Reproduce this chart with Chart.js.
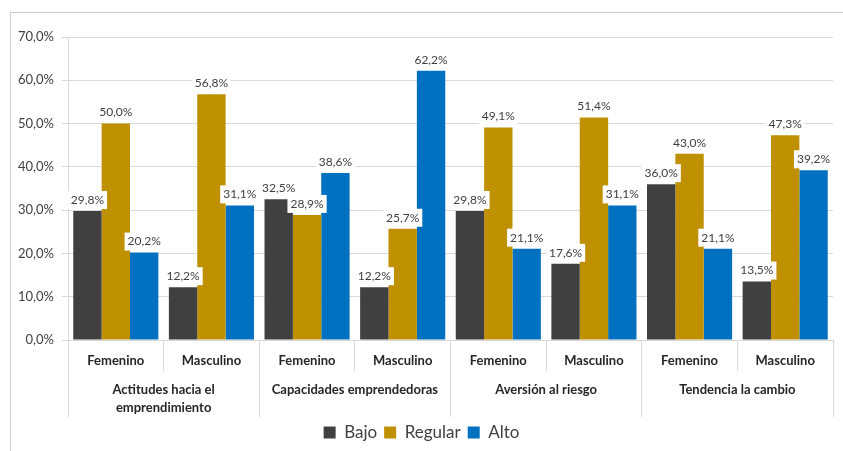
<!DOCTYPE html>
<html>
<head>
<meta charset="utf-8">
<script src="https://cdn.jsdelivr.net/npm/chart.js@4.4.1/dist/chart.umd.min.js"></script>
<style>
  body { margin: 0; background: #fff; }
  #wrap { position: relative; width: 843px; height: 451px; }
  #frame { position: absolute; left: 10px; top: 12px; right: 0; bottom: 0;
           border-left: 1px solid #cfcfcf; border-top: 1px solid #cfcfcf; }
  canvas { position: absolute; left: 0; top: 0; }
</style>
</head>
<body>
<div id="wrap">
  <div id="frame"></div>
  <canvas id="chart" width="843" height="451"></canvas>
</div>
<script>
var subLabels = ["Femenino", "Masculino", "Femenino", "Masculino", "Femenino", "Masculino", "Femenino", "Masculino"];
var groupLabels = [["Actitudes hacia el", "emprendimiento"], "Capacidades emprendedoras", "Aversión al riesgo", "Tendencia la cambio"];
var bajo = [29.8, 12.2, 32.5, 12.2, 29.8, 17.6, 36.0, 13.5];
var regular = [50.0, 56.8, 28.9, 25.7, 49.1, 51.4, 43.0, 47.3];
var alto = [20.2, 31.1, 38.6, 62.2, 21.1, 31.1, 21.1, 39.2];
var yTicks = [0, 10, 20, 30, 40, 50, 60, 70];

var fmt = function(v) {
  return v.toFixed(1).replace(".", ",") + "%";
};

// etiquetas de datos con fondo blanco
var barLabels = {
  id: "barLabels",
  afterDatasetsDraw: function(chart) {
    var ctx = chart.ctx;
    ctx.save();
    ctx.font = "12px Lato";
    ctx.textAlign = "center";
    ctx.textBaseline = "middle";
    chart.data.datasets.forEach(function(ds, i) {
      var meta = chart.getDatasetMeta(i);
      meta.data.forEach(function(bar, j) {
        var txt = fmt(ds.data[j]);
        var w = ctx.measureText(txt).width + 6;
        var cy = bar.y - 11;
        ctx.fillStyle = "#fff";
        ctx.fillRect(bar.x - w / 2, cy - 9, w, 18);
        ctx.fillStyle = "#404040";
        ctx.fillText(txt, bar.x, cy);
      });
    });
    ctx.restore();
  }
};

var ctx = document.getElementById("chart").getContext("2d");
new Chart(ctx, {
  type: "bar",
  data: {
    labels: subLabels,
    datasets: [
      { label: "Bajo", data: bajo, backgroundColor: "#404040" },
      { label: "Regular", data: regular, backgroundColor: "#BF9000" },
      { label: "Alto", data: alto, backgroundColor: "#0070C0" }
    ]
  },
  options: {
    responsive: false,
    animation: false,
    events: [],
    layout: { padding: { left: 10, right: 10, top: 37, bottom: 0 } },
    datasets: { bar: { categoryPercentage: 0.89, barPercentage: 1, borderWidth: 0 } },
    plugins: {
      tooltip: { enabled: false },
      legend: {
        position: "bottom",
        labels: {
          font: { family: "Lato", size: 17 },
          color: "#404040",
          boxWidth: 12,
          boxHeight: 12,
          padding: 7
        }
      }
    },
    scales: {
      y: {
        min: 0,
        max: 70,
        afterBuildTicks: function(scale) {
          scale.ticks = yTicks.map(function(v) { return { value: v }; });
        },
        afterFit: function(scale) { scale.width = 58; },
        grid: { color: "#d9d9d9", tickLength: 6, tickColor: "#d9d9d9" },
        border: { color: "#d9d9d9" },
        ticks: {
          padding: 8,
          color: "#404040",
          font: { family: "Lato", size: 13 },
          callback: function(v) { return fmt(v); }
        }
      },
      x: {
        grid: { drawOnChartArea: false, offset: true, tickLength: 31, color: "#d9d9d9" },
        border: { color: "#d9d9d9" },
        afterFit: function(scale) { scale.height = 31; },
        ticks: {
          padding: -18,
          color: "#262626",
          font: { family: "Lato", size: 13, weight: "bold" }
        }
      },
      x2: {
        type: "category",
        position: "bottom",
        labels: groupLabels,
        offset: true,
        grid: { drawOnChartArea: false, offset: true, tickLength: 46, color: "#d9d9d9" },
        border: { display: false },
        afterFit: function(scale) { scale.height = 46; },
        ticks: {
          padding: -36,
          color: "#262626",
          font: { family: "Lato", size: 13, weight: "bold", lineHeight: 1.4 }
        }
      }
    }
  },
  plugins: [barLabels]
});
</script>
</body>
</html>
